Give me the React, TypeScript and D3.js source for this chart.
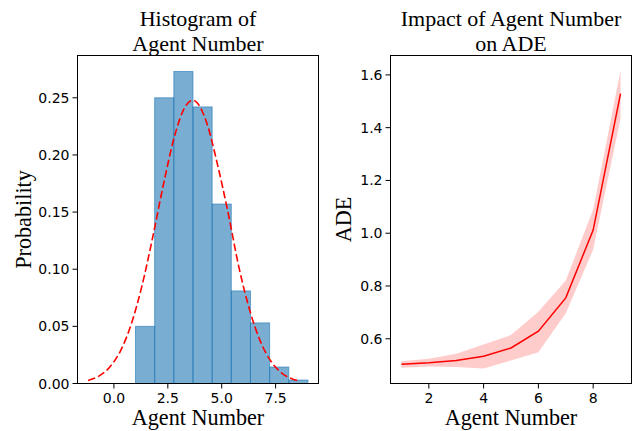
import React from "react";
import * as d3 from "d3";

// histogram of agent number (density)
const binEdges = [1.0, 1.889, 2.778, 3.667, 4.556, 5.444, 6.333, 7.222, 8.111, 9.0];
const binDensity = [0.05, 0.25, 0.273, 0.242, 0.157, 0.081, 0.053, 0.0144, 0.003];

// fitted normal curve
const curveX = [-1.2, -0.7, -0.2, 0.3, 0.8, 1.3, 1.8, 2.3, 2.8, 3.3, 3.65, 3.8, 4.3, 4.8, 5.3, 5.8, 6.3, 6.8, 7.3, 7.8, 8.3, 8.5];
const curveY = [0.0027, 0.0064, 0.0142, 0.0284, 0.0517, 0.0854, 0.1281, 0.1744, 0.2156, 0.242, 0.2478, 0.2467, 0.2284, 0.192, 0.149, 0.1016, 0.064, 0.0366, 0.019, 0.0089, 0.0038, 0.0027];

// ADE vs agent number
const agentNums = [1, 2, 3, 4, 5, 6, 7, 8, 9];
const adeMean = [0.503, 0.509, 0.518, 0.534, 0.565, 0.629, 0.755, 1.012, 1.529];
const adeUpper = [0.515, 0.524, 0.543, 0.578, 0.614, 0.702, 0.821, 1.09, 1.617];
const adeLower = [0.49, 0.495, 0.493, 0.487, 0.518, 0.549, 0.697, 0.938, 1.435];

const histXTicks = [0, 2.5, 5, 7.5];
const histYTicks = [0, 0.05, 0.1, 0.15, 0.2, 0.25];
const adeXTicks = [2, 4, 6, 8];
const adeYTicks = [0.6, 0.8, 1.0, 1.2, 1.4, 1.6];

const W = 641;
const H = 431;
const serif = "'Liberation Serif', 'Times New Roman', serif";
const sans = "'DejaVu Sans', sans-serif";

const Axes = ({ x, y, xTicks, yTicks, xFmt, yFmt, title, ylabel, ylabelX, children }) => {
  const [x0, x1] = x.range();
  const [y0, y1] = y.range(); // y0 bottom
  const cx = (x0 + x1) / 2;
  const cy = (y0 + y1) / 2;
  return (
    <g>
      {children}
      <rect x={x0} y={y1} width={x1 - x0} height={y0 - y1} fill="none" stroke="#000" strokeWidth={1} />
      {xTicks.map((t) => (
        <g key={"x" + t} transform={`translate(${x(t)},${y0})`}>
          <line y2={5} stroke="#000" strokeWidth={1} />
          <text y={19} textAnchor="middle" fontFamily={sans} fontSize={14}>{xFmt(t)}</text>
        </g>
      ))}
      {yTicks.map((t) => (
        <g key={"y" + t} transform={`translate(${x0},${y(t)})`}>
          <line x2={-5} stroke="#000" strokeWidth={1} />
          <text x={-8} dy="0.36em" textAnchor="end" fontFamily={sans} fontSize={14}>{yFmt(t)}</text>
        </g>
      ))}
      <text x={cx} y={425} textAnchor="middle" fontFamily={serif} fontSize={22.2}>Agent Number</text>
      <text transform={`translate(${ylabelX},${cy}) rotate(-90)`} textAnchor="middle" fontFamily={serif} fontSize={22.2}>{ylabel}</text>
      {/* two-line title */}
      <text y={26} textAnchor="middle" fontFamily={serif} fontSize={22}>
        <tspan x={cx}>{title[0]}</tspan>
        <tspan x={cx} dy={24.6}>{title[1]}</tspan>
      </text>
    </g>
  );
};

export default function App() {
  // left panel
  const hx = d3.scaleLinear().domain([-1.69, 9.49]).range([77.5, 318.5]);
  const hy = d3.scaleLinear().domain([0, 0.287]).range([383.5, 55.5]);
  const normLine = d3
    .line<number>()
    .x((d) => hx(d))
    .y((_, i) => hy(curveY[i]))
    .curve(d3.curveMonotoneX);

  // right panel
  const ax = d3.scaleLinear().domain([0.6, 9.4]).range([390.5, 631.5]);
  const ay = d3.scaleLinear().domain([0.4305, 1.6735]).range([383.5, 55.5]);
  const band = d3
    .area<number>()
    .x((d) => ax(d))
    .y0((_, i) => ay(adeLower[i]))
    .y1((_, i) => ay(adeUpper[i]));
  const meanLine = d3
    .line<number>()
    .x((d) => ax(d))
    .y((_, i) => ay(adeMean[i]));

  return (
    <svg width={W} height={H} style={{ position: "absolute", left: 0, top: 0, background: "#fff" }}>
      <Axes
        x={hx}
        y={hy}
        xTicks={histXTicks}
        yTicks={histYTicks}
        xFmt={d3.format(".1f")}
        yFmt={d3.format(".2f")}
        title={["Histogram of", "Agent Number"]}
        ylabel="Probability"
        ylabelX={31}
      >
        {binDensity.map((v, i) => (
          <rect
            key={i}
            x={hx(binEdges[i])}
            y={hy(v)}
            width={hx(binEdges[i + 1]) - hx(binEdges[i])}
            height={hy(0) - hy(v)}
            fill="#1f77b4"
            fillOpacity={0.6}
            stroke="#1f77b4"
            strokeOpacity={0.6}
            strokeWidth={1}
          />
        ))}
        <path d={normLine(curveX) || ""} fill="none" stroke="red" strokeWidth={1.6} strokeDasharray="7.5,3.2" />
      </Axes>
      <Axes
        x={ax}
        y={ay}
        xTicks={adeXTicks}
        yTicks={adeYTicks}
        xFmt={d3.format("d")}
        yFmt={d3.format(".1f")}
        title={["Impact of Agent Number", "on ADE"]}
        ylabel="ADE"
        ylabelX={351}
      >
        <path d={band(agentNums) || ""} fill="#ffcccc" stroke="none" />
        <path d={meanLine(agentNums) || ""} fill="none" stroke="red" strokeWidth={1.5} />
      </Axes>
    </svg>
  );
}
